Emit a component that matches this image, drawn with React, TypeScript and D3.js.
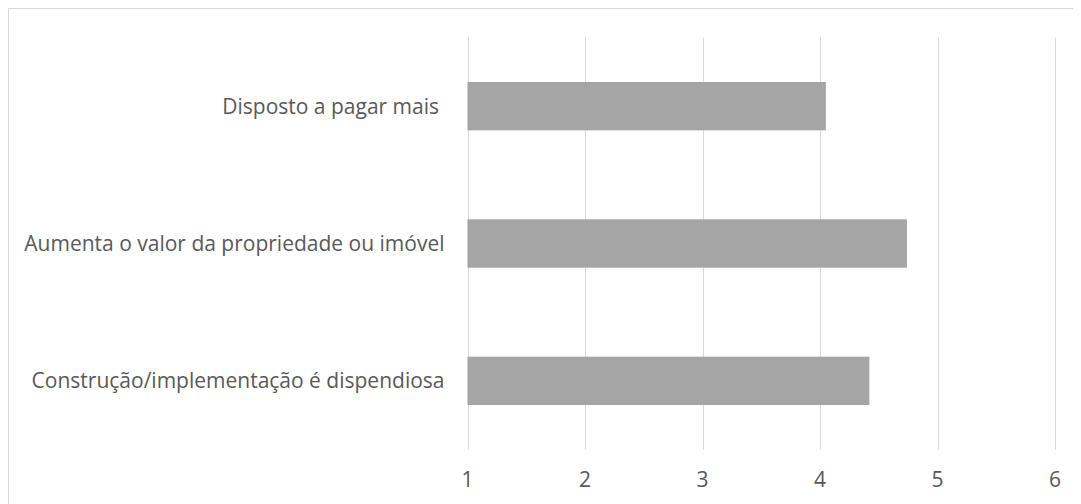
import React, { useEffect, useRef } from 'react';
import * as d3 from 'd3';

// categories top -> bottom
const categories = [
  'Disposto a pagar mais ',
  'Aumenta o valor da propriedade ou imóvel',
  'Construção/implementação é dispendiosa',
];
const values = [4.05, 4.74, 4.42];
const xTicks = [1, 2, 3, 4, 5, 6];

export default function App() {
  const svgRef = useRef<SVGSVGElement>(null);

  useEffect(() => {
    const width = 1073;
    const height = 496;
    const svg = d3.select(svgRef.current).attr('width', width).attr('height', height);
    svg.selectAll('*').remove();

    const font = '"Open Sans", sans-serif';
    const textColor = '#595959';

    // chart border (right/bottom run off the page)
    svg.append('rect')
      .attr('x', 0.5).attr('y', 0.5)
      .attr('width', width + 20).attr('height', height + 20)
      .attr('fill', '#fff').attr('stroke', '#d9d9d9');

    const x = d3.scaleLinear().domain([1, 6]).range([459.5, 1047]);
    const y = d3.scaleBand<string>().domain(categories).range([29.5, 441.5]).paddingInner(0.648).paddingOuter(0.324);

    // vertical gridlines
    svg.append('g')
      .selectAll('line')
      .data(xTicks)
      .join('line')
      .attr('x1', d => Math.round(x(d)) + 0.5)
      .attr('x2', d => Math.round(x(d)) + 0.5)
      .attr('y1', 29.5)
      .attr('y2', 441.5)
      .attr('stroke', '#d9d9d9')
      .attr('stroke-width', 1);

    // bars
    svg.append('g')
      .selectAll('rect')
      .data(values)
      .join('rect')
      .attr('x', x(1))
      .attr('y', (d, i) => y(categories[i])!)
      .attr('width', d => x(d) - x(1))
      .attr('height', y.bandwidth())
      .attr('fill', '#a5a5a5');

    // category labels
    svg.append('g')
      .selectAll('text')
      .data(categories)
      .join('text')
      .attr('x', x(1) - 23)
      .attr('y', d => y(d)! + y.bandwidth() / 2)
      .attr('dy', '0.35em')
      .attr('text-anchor', 'end')
      .style('white-space', 'pre')
      .attr('font-family', font)
      .attr('font-size', 21)
      .attr('fill', textColor)
      .text(d => d);

    // x tick labels
    svg.append('g')
      .selectAll('text')
      .data(xTicks)
      .join('text')
      .attr('x', d => x(d))
      .attr('y', 472)
      .attr('dy', '0.35em')
      .attr('text-anchor', 'middle')
      .attr('font-family', font)
      .attr('font-size', 21)
      .attr('fill', textColor)
      .text(d => String(d));
  }, []);

  return <svg ref={svgRef} style={{ display: 'block' }}></svg>;
}
